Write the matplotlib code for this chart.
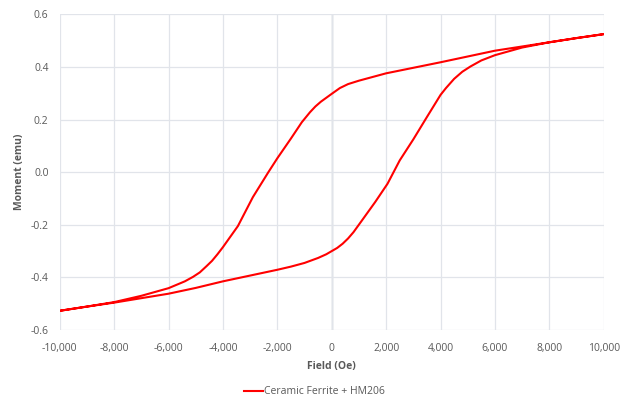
import matplotlib
matplotlib.use("Agg")
import matplotlib.pyplot as plt
from matplotlib.ticker import FuncFormatter, MultipleLocator

plt.rcParams['font.family'] = ['Open Sans', 'DejaVu Sans']

# Upper branch (field sweeping down from +10000 to -10000)
upper_field = [10000, 9000, 8000, 7000, 6000, 5000, 4000, 3000, 2000, 1500, 1000, 600,
               300, 0, -200, -400, -600, -800, -1100, -1500, -2000, -2330, -2900,
               -3450, -4000, -4200, -4400, -4600, -4850, -5100, -5400, -6000, -7000,
               -8000, -9000, -10000]
upper_moment = [0.525, 0.510, 0.494, 0.478, 0.462, 0.440, 0.418, 0.397, 0.376, 0.362,
                0.348, 0.335, 0.320, 0.298, 0.283, 0.268, 0.250, 0.228, 0.190, 0.128,
                0.053, 0.0, -0.095, -0.205, -0.285, -0.312, -0.337, -0.357, -0.381,
                -0.398, -0.415, -0.441, -0.470, -0.494, -0.511, -0.527]

# Lower branch (field sweeping up from -10000 to +10000)
lower_field = [-10000, -9000, -8000, -7000, -6000, -5000, -4000, -3000, -2000, -1500,
               -1000, -500, -200, 0, 200, 400, 600, 800, 1100, 1600, 2050, 2500,
               3000, 3500, 4000, 4200, 4500, 4800, 5100, 5500, 6000, 7000, 8000,
               9000, 10000]
lower_moment = [-0.527, -0.511, -0.496, -0.479, -0.462, -0.440, -0.415, -0.393, -0.371,
                -0.359, -0.345, -0.326, -0.312, -0.300, -0.288, -0.272, -0.252,
                -0.228, -0.185, -0.113, -0.044, 0.045, 0.125, 0.210, 0.294, 0.320,
                0.355, 0.382, 0.402, 0.425, 0.445, 0.474, 0.494, 0.510, 0.525]

series_name = "Ceramic Ferrite + HM206"
x_label = "Field (Oe)"
y_label = "Moment (emu)"

fig = plt.figure(figsize=(6.29, 4.0), dpi=100)
ax = fig.add_axes([0.0949, 0.175, 0.865, 0.789])

grid_col = "#e1e4ea"
text_col = "#595959"

field = upper_field + lower_field
moment = upper_moment + lower_moment
line, = ax.plot(field, moment, color="#ff0000", lw=1.5, solid_joinstyle="round",
                label=series_name, zorder=3)

ax.set_xlim(-10000, 10000)
ax.set_ylim(-0.6, 0.6)
ax.xaxis.set_major_locator(MultipleLocator(2000))
ax.yaxis.set_major_locator(MultipleLocator(0.2))
ax.xaxis.set_major_formatter(FuncFormatter(lambda v, p: f"{int(round(v)):,}"))
ax.yaxis.set_major_formatter(FuncFormatter(lambda v, p: f"{v:.1f}".replace("−", "-")))

ax.grid(True, color=grid_col, lw=0.9, zorder=0)
ax.axvline(0, color="#b8bfcb", lw=1.0, zorder=1)
for s in ax.spines.values():
    s.set_visible(False)
ax.tick_params(length=0, labelsize=7.5, labelcolor=text_col)
ax.tick_params(axis="x", pad=9.5)
ax.tick_params(axis="y", pad=8)

ax.set_xlabel(x_label, fontsize=7.5, fontweight="bold", color=text_col, labelpad=5)
ax.set_ylabel(y_label, fontsize=7.5, fontweight="bold", color=text_col, labelpad=4)

fig.legend(handles=[line], loc="center", bbox_to_anchor=(0.5, 0.02),
           frameon=False, fontsize=7.5, handlelength=1.8, handletextpad=0.1,
           labelcolor=text_col)

fig.savefig("out.png", dpi=100)
